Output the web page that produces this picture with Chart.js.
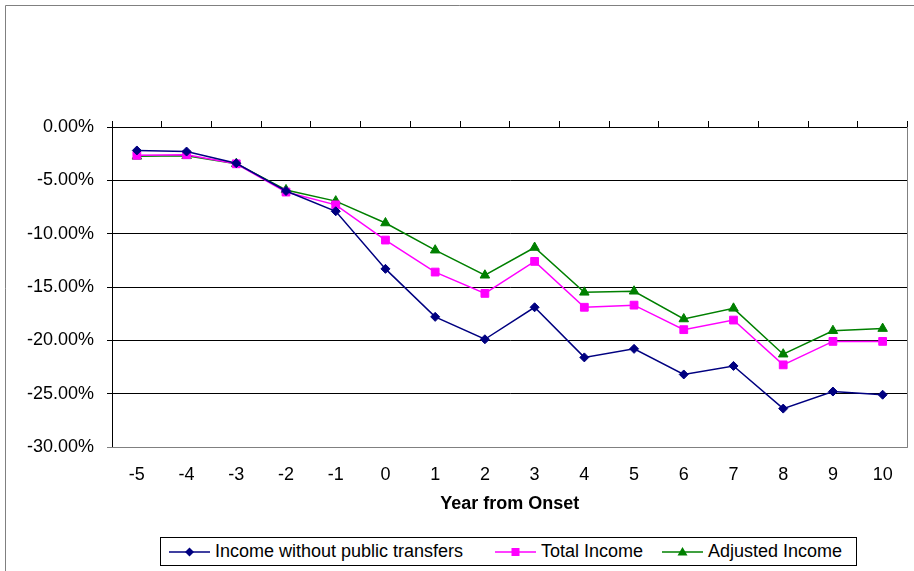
<!DOCTYPE html>
<html>
<head>
<meta charset="utf-8">
<script src="https://cdn.jsdelivr.net/npm/chart.js@4.4.0/dist/chart.umd.min.js"></script>
<style>
  html, body { margin: 0; padding: 0; background: #fff; }
  #wrap { position: relative; width: 914px; height: 571px; }
  #legend {
    position: absolute; left: 160px; top: 537px; width: 697px; height: 29px;
    border: 1px solid #000; box-sizing: border-box; background: #fff;
  }
  .item {
    position: absolute; top: 0; height: 27px; display: flex; align-items: center;
    font-family: Arial, "Liberation Sans", sans-serif; font-size: 18px; color: #000;
    white-space: nowrap;
  }
  .item svg { margin-right: 5px; }
</style>
</head>
<body>
<div id="wrap">
  <canvas id="incomeChart" width="914" height="571"></canvas>
  <div id="legend"></div>
</div>
<script>
// years relative to onset
var years = ['-5', '-4', '-3', '-2', '-1', '0', '1', '2', '3', '4', '5', '6', '7', '8', '9', '10'];

// percent change in income
var withoutTransfers = [-2.2, -2.3, -3.4, -6.0, -7.9, -13.3, -17.8, -19.9, -16.9, -21.6, -20.8, -23.2, -22.4, -26.4, -24.8, -25.1];
var totalIncome = [-2.65, -2.6, -3.45, -6.1, -7.3, -10.6, -13.6, -15.6, -12.6, -16.9, -16.7, -19.0, -18.1, -22.3, -20.1, -20.1];
var adjustedIncome = [-2.75, -2.7, -3.45, -5.9, -6.95, -9.0, -11.55, -13.9, -11.3, -15.5, -15.4, -18.0, -17.0, -21.3, -19.1, -18.9];

var seriesNames = ['Income without public transfers', 'Total Income', 'Adjusted Income'];
var seriesColors = ['#000080', '#FF00FF', '#008000'];
var seriesMarkers = ['rectRot', 'rect', 'triangle'];

Chart.defaults.font.family = 'Arial, "Liberation Sans", sans-serif';
Chart.defaults.color = '#000';

// white background, outer frame and grey plot border
var framePlugin = {
    id: 'frame',
    beforeDraw: function(chart) {
        var ctx = chart.ctx;
        ctx.save();
        ctx.fillStyle = '#fff';
        ctx.fillRect(0, 0, chart.width, chart.height);
        ctx.strokeStyle = '#808080';
        ctx.lineWidth = 1;
        ctx.beginPath();
        ctx.moveTo(5.5, chart.height);
        ctx.lineTo(5.5, 5.5);
        ctx.lineTo(chart.width, 5.5);
        ctx.stroke();
        ctx.restore();
    },
    beforeDatasetsDraw: function(chart) {
        var a = chart.chartArea, ctx = chart.ctx;
        ctx.save();
        ctx.strokeStyle = '#808080';
        ctx.lineWidth = 1;
        ctx.beginPath();
        ctx.moveTo(a.left, Math.round(a.bottom) + 0.5);
        ctx.lineTo(Math.round(a.right) - 0.5, Math.round(a.bottom) + 0.5);
        ctx.lineTo(Math.round(a.right) - 0.5, a.top);
        ctx.stroke();
        ctx.restore();
    }
};

var series = [withoutTransfers, totalIncome, adjustedIncome];
var markerRadius = { rectRot: 4.5, rect: 5.5, triangle: 5.5 };

var datasets = series.map(function(values, i) {
    return {
        label: seriesNames[i],
        data: values,
        borderColor: seriesColors[i],
        backgroundColor: seriesColors[i],
        borderWidth: 1.5,
        pointStyle: seriesMarkers[i],
        pointRadius: markerRadius[seriesMarkers[i]],
        pointHoverRadius: markerRadius[seriesMarkers[i]],
        pointBorderWidth: 1,
        tension: 0,
        xAxisID: 'x',
        yAxisID: 'y'
    };
});

var ctx = document.getElementById('incomeChart').getContext('2d');
var incomeChart = new Chart(ctx, {
    type: 'line',
    data: { labels: years, datasets: datasets },
    plugins: [framePlugin],
    options: {
        responsive: false,
        animation: false,
        layout: { padding: { top: 121, right: 2, left: 0, bottom: 0 } },
        plugins: { legend: { display: false }, tooltip: { enabled: false } },
        scales: {
            x: {
                position: 'bottom',
                offset: true,
                grid: { display: false, drawTicks: false },
                border: { display: false },
                ticks: { font: { size: 18 }, padding: 17, maxRotation: 0, autoSkip: false },
                title: {
                    display: true,
                    text: 'Year from Onset',
                    font: { size: 18, weight: 'bold' },
                    padding: { top: 0, bottom: 56 }
                },
                afterFit: function(scale) { scale.height = 124; }
            },
            xTop: {
                type: 'category',
                position: 'top',
                offset: true,
                grid: { offset: true, drawOnChartArea: false, tickLength: 6, color: '#000' },
                border: { color: '#000' },
                ticks: { display: false },
                afterFit: function(scale) { scale.height = 6; }
            },
            y: {
                min: -30,
                max: 0,
                ticks: {
                    stepSize: 5,
                    font: { size: 18 },
                    padding: 13,
                    callback: function(v) { return v.toFixed(2) + '%'; }
                },
                grid: {
                    tickLength: 5,
                    color: function(c) { return c.tick && c.tick.value === -30 ? '#808080' : '#000'; }
                },
                border: { color: '#000' },
                afterFit: function(scale) { scale.width = 112; }
            }
        }
    }
});

// legend: line sample with marker, then the series name
var legendLefts = [8, 334, 501];
var legend = document.getElementById('legend');
function markerSvg(kind, color) {
    var cx = 20.5, cy = 7, shape;
    if (kind === 'rectRot') {
        shape = '<polygon points="' + (cx - 4.5) + ',' + cy + ' ' + cx + ',' + (cy - 4.5) + ' ' + (cx + 4.5) + ',' + cy + ' ' + cx + ',' + (cy + 4.5) + '" fill="' + color + '"/>';
    } else if (kind === 'rect') {
        shape = '<rect x="' + (cx - 4) + '" y="' + (cy - 4) + '" width="8" height="8" fill="' + color + '"/>';
    } else {
        shape = '<polygon points="' + (cx - 5) + ',' + (cy + 3.5) + ' ' + cx + ',' + (cy - 5) + ' ' + (cx + 5) + ',' + (cy + 3.5) + '" fill="' + color + '"/>';
    }
    return '<svg width="41" height="14"><line x1="0" y1="' + cy + '" x2="41" y2="' + cy + '" stroke="' + color + '" stroke-width="1.5"/>' + shape + '</svg>';
}
seriesNames.forEach(function(name, i) {
    var el = document.createElement('div');
    el.className = 'item';
    el.style.left = legendLefts[i] + 'px';
    el.innerHTML = markerSvg(seriesMarkers[i], seriesColors[i]) + '<span>' + name + '</span>';
    legend.appendChild(el);
});
</script>
</body>
</html>
